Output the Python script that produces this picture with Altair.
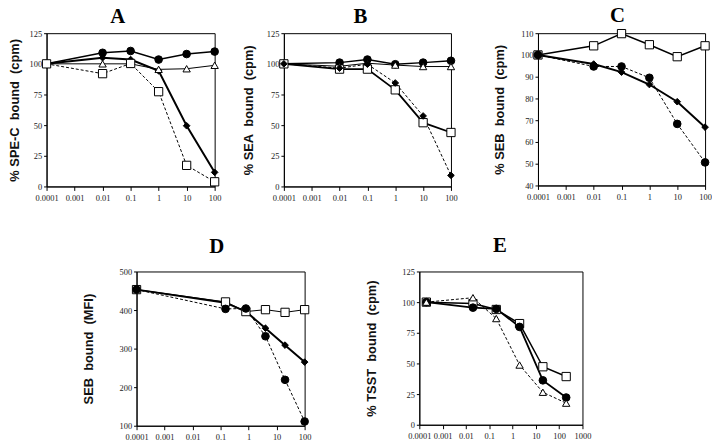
import altair as alt
import pandas as pd

NB = "\u00a0"

# ---------------- data ----------------
x_abc = [0.0001, 0.01, 0.1, 1, 10, 100]
x_d = [0.0001, 0.15, 0.8, 4, 20, 100]
x_e = [0.0002, 0.02, 0.2, 2, 20, 200]

ticks_abcd = [0.0001, 0.001, 0.01, 0.1, 1, 10, 100]
ticks_e = [0.0001, 0.001, 0.01, 0.1, 1, 10, 100, 1000]

a_circle = [100, 109, 110.5, 103.5, 108, 110]
a_diamond = [100, 105, 103.5, 94.3, 49.5, 11.5]
a_triangle = [100, 100, 100, 95.5, 96, 98.8]
a_square = [100, 92, 100.3, 77.3, 17.2, 3.8]

b_circle = [100, 101, 103.5, 99.7, 101, 102.5]
b_triangle = [100, 98, 100.5, 99, 97.8, 97.8]
b_square = [100, 95.7, 95.7, 78.8, 52, 44]
b_diamond = [100, 96.5, 99.7, 84.4, 57.5, 9]

c_square = [100, 104.2, 109.8, 104.7, 99.2, 104.2]
c_circle = [100, 94.7, 94.7, 89.5, 68.3, 50.6]
c_diamond = [100, 95.8, 92.1, 86.4, 78.5, 66.8]

d_diamond = [453, 419, 396, 353, 309, 265]
d_square = [453, 421, 396, 401, 394, 401]
d_circle = [453, 403, 404, 332, 219, 111]

e_square = [100, 98.8, 94, 82.5, 47.3, 39.3]
e_circle = [100, 95.5, 94.5, 79.8, 36.2, 22.2]
e_triangle = [100, 103.6, 86.6, 48.7, 26.5, 17.6]

y_ticks_125 = [0, 25, 50, 75, 100, 125]
y_ticks_c = [40, 50, 60, 70, 80, 90, 100, 110]
y_ticks_d = [100, 200, 300, 400, 500]

# marker styles: (shape, fill, size)
STY = {
    "circle": ("circle", "black", 60),
    "diamond": ("diamond", "black", 45),
    "square": ("square", "white", 70),
    "triangle": ("triangle-up", "white", 55),
}


def panel(title, ytitle, xs, series, xdom, xticks, ydom, yticks, w, h,
          title_offset, title_dx, ytitle_x):
    xenc = alt.X("x:Q", scale=alt.Scale(type="log", domain=xdom),
                 axis=alt.Axis(values=xticks, format="~g", title=None,
                               labelOverlap=False, labelFlush=False,
                               tickSize=4, labelPadding=3, grid=False,
                               labelFont="Liberation Serif", labelFontSize=8.5,
                               labelColor="#222", domainColor="black",
                               tickColor="black"))
    yenc = alt.Y("y:Q", scale=alt.Scale(domain=ydom, zero=False, nice=False),
                 axis=alt.Axis(values=yticks, title=ytitle, grid=False,
                               tickSize=3, labelPadding=2,
                               labelFont="Liberation Serif", labelFontSize=8.5,
                               labelColor="#222", domainColor="black",
                               tickColor="black",
                               titleFont="Liberation Sans", titleFontSize=13,
                               titleFontWeight="bold", titleColor="#111",
                               titleAngle=270, titleBaseline="middle",
                               titleAlign="center",
                               titleX=ytitle_x, titleY=h / 2))
    lines, pts = [], []
    for vals, kind, dash, sw in series:
        df = pd.DataFrame({"x": xs, "y": vals})
        base = alt.Chart(df)
        lk = dict(color="black", strokeWidth=sw)
        if dash:
            lk["strokeDash"] = [3, 2]
        lines.append(base.mark_line(**lk).encode(x=xenc, y=yenc))
        shape, fill, size = STY[kind]
        pts.append(base.mark_point(shape=shape, filled=True, fill=fill,
                                   stroke="black", strokeWidth=1, size=size,
                                   opacity=1).encode(x=xenc, y=yenc))
    return alt.layer(*lines, *pts).properties(
        width=w, height=h,
        title=alt.TitleParams(title, font="Liberation Serif", fontSize=21,
                              fontWeight="bold", color="black",
                              baseline="alphabetic", offset=title_offset,
                              dx=title_dx, frame="group", anchor="middle"),
        view=alt.ViewBackground(stroke="black", strokeWidth=1),
    )


def spacer(w, h):
    return alt.Chart(pd.DataFrame({"a": [0]})).mark_point(opacity=0).encode(
        x=alt.value(0), y=alt.value(0)
    ).properties(width=w, height=h,
                 view=alt.ViewBackground(stroke="transparent"))


pA = panel("A", f"% SPE-C{NB} bound{NB} (cpm)", x_abc,
           [(a_circle, "circle", False, 1.5), (a_diamond, "diamond", False, 2),
            (a_triangle, "triangle", False, 1), (a_square, "square", True, 1)],
           [0.0001, 100], ticks_abcd, [0, 125], y_ticks_125, 170, 155, -15, -13, -32)
pB = panel("B", f"% SEA{NB} bound{NB} (cpm)", x_abc,
           [(b_circle, "circle", False, 1.5), (b_triangle, "triangle", False, 1),
            (b_square, "square", False, 1.8), (b_diamond, "diamond", True, 1)],
           [0.0001, 100], ticks_abcd, [0, 125], y_ticks_125, 169, 155, -15, -7, -36)
pC = panel("C", f"% SEB{NB} bound{NB} (cpm)", x_abc,
           [(c_square, "square", False, 1.5), (c_circle, "circle", True, 1),
            (c_diamond, "diamond", False, 2)],
           [0.0001, 100], ticks_abcd, [40, 110], y_ticks_c, 169, 154, -15, -4, -39)
pD = panel("D", f"SEB{NB} bound{NB} (MFI)", x_d,
           [(d_diamond, "diamond", False, 2), (d_square, "square", False, 1),
            (d_circle, "circle", True, 1)],
           [0.0001, 100], ticks_abcd, [100, 500], y_ticks_d, 170, 156, -6, -4, -49)
pE = panel("E", f"% TSST{NB} bound{NB} (cpm)", x_e,
           [(e_square, "square", False, 1.5), (e_circle, "circle", False, 1.8),
            (e_triangle, "triangle", True, 1)],
           [0.0001, 1000], ticks_e, [0, 125], y_ticks_125, 165, 155, -5, -1, -48)

top = alt.hconcat(pA, spacer(70, 155), pB, spacer(88, 155), pC,
                  spacing=0, bounds="flush")
bottom = alt.hconcat(spacer(91, 156), pD, spacer(116, 156), pE,
                     spacing=0, bounds="flush")

chart = alt.vconcat(top, bottom, spacing=32).properties(
    padding={"top": -7, "left": 0, "right": 0, "bottom": 0},
    background="white"
).configure_view(stroke=None)

chart.save("out.html", embed_options={"renderer": "svg", "actions": False})
